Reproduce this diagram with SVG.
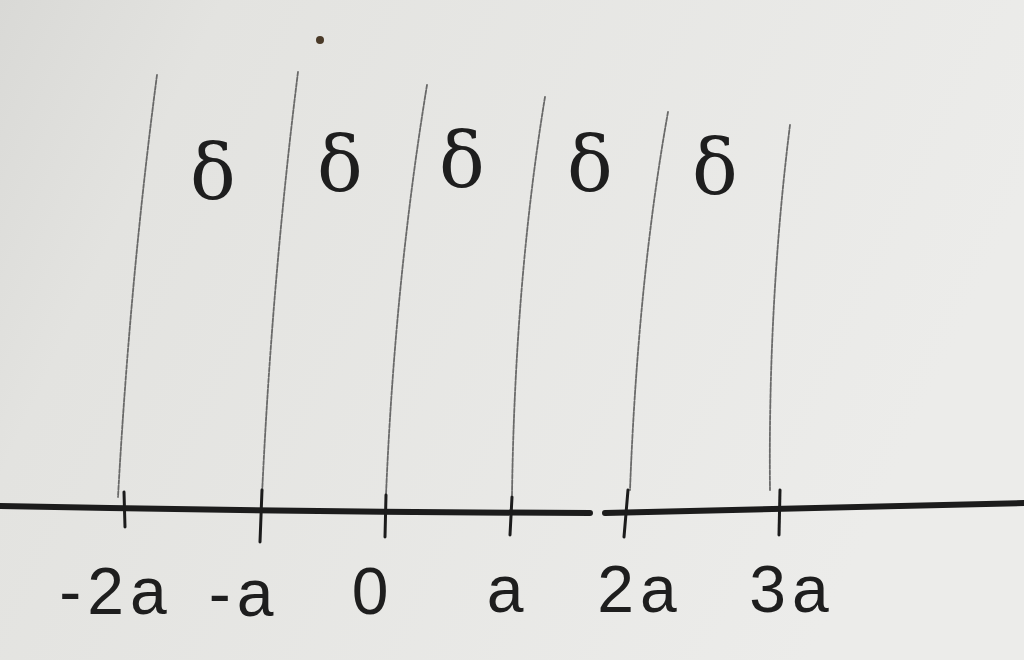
<svg xmlns="http://www.w3.org/2000/svg" width="1024" height="660" viewBox="0 0 1024 660">
<defs>
<linearGradient id="paper" x1="0" y1="0" x2="1" y2="0.3">
<stop offset="0" stop-color="#d9d9d6"/>
<stop offset="0.2" stop-color="#e3e3e0"/>
<stop offset="1" stop-color="#ececea"/>
</linearGradient>
<style>
.pencil{fill:none;stroke:#4a4a4a;stroke-width:1.8;stroke-dasharray:4 1.5;stroke-linecap:round;opacity:0.8}
.axis{fill:none;stroke:#1c1c1c;stroke-width:6;stroke-linecap:round}
.tick{fill:none;stroke:#1c1c1c;stroke-width:3;stroke-linecap:round}
.delta{font-family:"DejaVu Serif",serif;font-size:76px;fill:#1e1e1e;text-anchor:middle}
.lbl{font-family:"Liberation Sans",sans-serif;font-size:66px;letter-spacing:6px;fill:#1e1e1e;text-anchor:middle}
</style>
</defs>
<rect width="1024" height="660" fill="url(#paper)"/>
<circle cx="320" cy="40" r="4" fill="#4a3a28"/>
<g id="connectors">
<path class="pencil" d="M157,75 Q130,280 118,497"/>
<path class="pencil" d="M298,72 Q272,280 262,495"/>
<path class="pencil" d="M427,85 Q395,280 386,495"/>
<path class="pencil" d="M545,97 Q515,280 512,495"/>
<path class="pencil" d="M668,112 Q638,280 630,490"/>
<path class="pencil" d="M790,125 Q768,300 770,490"/>
<path class="axis" d="M0,506 Q300,512 590,513"/>
<path class="axis" d="M605,513 Q800,508 1024,503"/>
<path class="tick" d="M124,492 L125,527"/>
<path class="tick" d="M262,490 L260,542"/>
<path class="tick" d="M386,495 L385,537"/>
<path class="tick" d="M512,497 L510,535"/>
<path class="tick" d="M628,490 L624,537"/>
<path class="tick" d="M780,490 L779,535"/>
</g>
<g id="deltas">
<text class="delta" x="213" y="198">δ</text>
<text class="delta" x="340" y="190">δ</text>
<text class="delta" x="462" y="186">δ</text>
<text class="delta" x="590" y="190">δ</text>
<text class="delta" x="715" y="193">δ</text>
</g>
<g id="labels">
<text class="lbl" x="116" y="614">-2a</text>
<text class="lbl" x="244" y="616">-a</text>
<text class="lbl" x="373" y="614">0</text>
<text class="lbl" x="508" y="612">a</text>
<text class="lbl" x="640" y="612">2a</text>
<text class="lbl" x="792" y="612">3a</text>
</g>
</svg>
